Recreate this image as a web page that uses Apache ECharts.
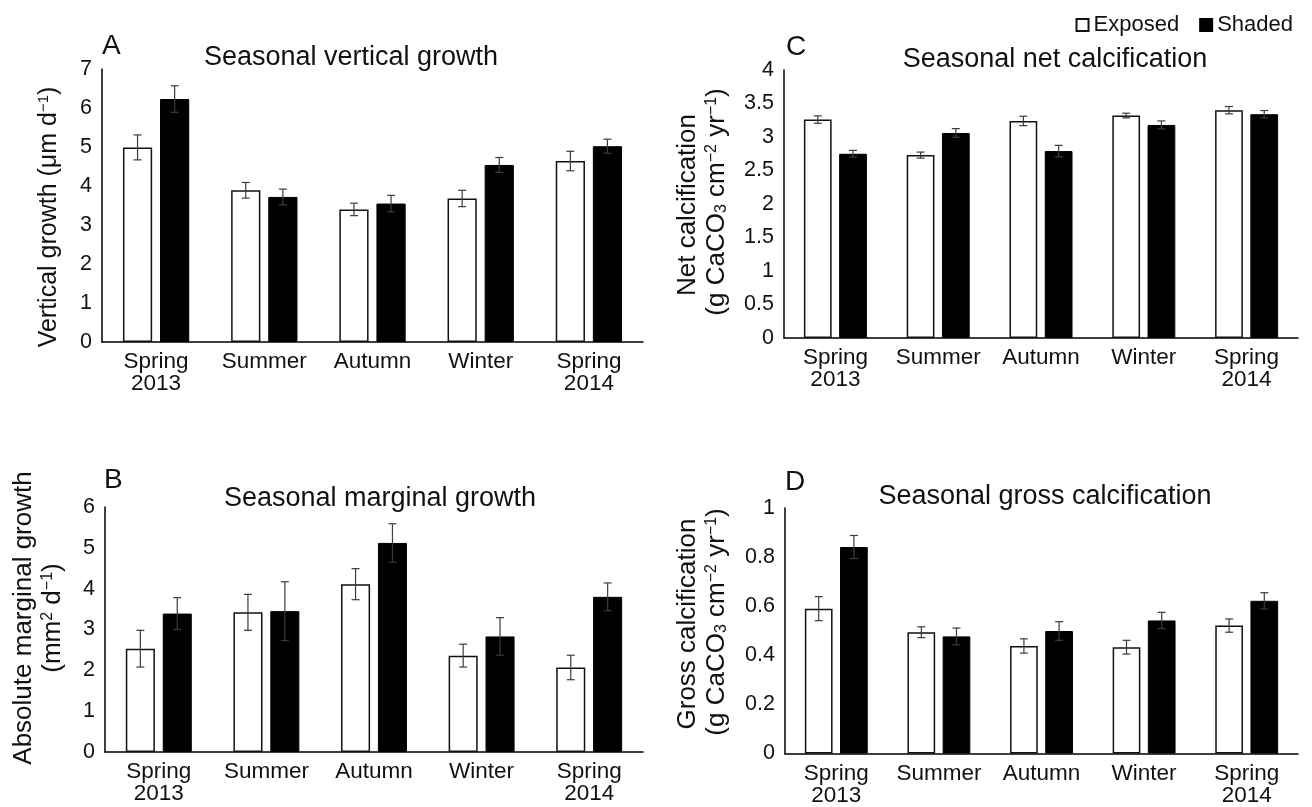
<!DOCTYPE html>
<html><head><meta charset="utf-8">
<script src="https://cdn.jsdelivr.net/npm/echarts@6/dist/echarts.min.js"></script>
<style>html,body{margin:0;padding:0;background:#fff}#c{width:1312px;height:807px}</style>
</head><body><div id="c"></div>
<script>
// ---------- data ----------
const categories = ['Spring\n2013', 'Summer', 'Autumn', 'Winter', 'Spring\n2014'];
const seriesNames = ['Exposed', 'Shaded'];

// A: Seasonal vertical growth (µm d-1)
const verticalExposed    = [4.99, 3.89, 3.40, 3.68, 4.64];
const verticalExposedErr = [0.32, 0.20, 0.16, 0.21, 0.25];
const verticalShaded     = [6.23, 3.72, 3.55, 4.54, 5.02];
const verticalShadedErr  = [0.34, 0.20, 0.21, 0.19, 0.18];
const verticalTicks = [0, 1, 2, 3, 4, 5, 6, 7];

// B: Seasonal marginal growth (mm2 d-1)
const marginalExposed    = [2.53, 3.42, 4.11, 2.36, 2.07];
const marginalExposedErr = [0.45, 0.44, 0.38, 0.28, 0.30];
const marginalShaded     = [3.39, 3.45, 5.12, 2.83, 3.80];
const marginalShadedErr  = [0.39, 0.72, 0.47, 0.46, 0.34];
const marginalTicks = [0, 1, 2, 3, 4, 5, 6];

// C: Seasonal net calcification (g CaCO3 cm-2 yr-1)
const netExposed    = [3.26, 2.73, 3.24, 3.32, 3.40];
const netExposedErr = [0.055, 0.045, 0.07, 0.035, 0.055];
const netShaded     = [2.75, 3.06, 2.79, 3.18, 3.34];
const netShadedErr  = [0.05, 0.065, 0.085, 0.06, 0.055];
const netTicks = [0, 0.5, 1, 1.5, 2, 2.5, 3, 3.5, 4];

// D: Seasonal gross calcification (g CaCO3 cm-2 yr-1)
const grossExposed    = [0.590, 0.494, 0.438, 0.433, 0.521];
const grossExposedErr = [0.049, 0.022, 0.029, 0.028, 0.027];
const grossShaded     = [0.841, 0.477, 0.499, 0.542, 0.622];
const grossShadedErr  = [0.047, 0.034, 0.038, 0.033, 0.033];
const grossTicks = [0, 0.2, 0.4, 0.6, 0.8, 1];

// ---------- styling ----------
const FONT = "'Liberation Sans', Arial, Helvetica, sans-serif";
const TXT = '#111';
const BAR_W = 0.27;      // fraction of category band
const BAR_GAP = 0.27;    // fraction of bar width
const OFFSET = (BAR_W * 2 + BAR_W * BAR_GAP) / 2 - BAR_W / 2;

const grids = [
  {left: 102, top: 69,  width: 541, height: 273},
  {left: 105, top: 507, width: 538, height: 245},
  {left: 784, top: 70,  width: 514, height: 268},
  {left: 785, top: 508, width: 513, height: 246}
];
const panels = [
  {ticks: verticalTicks, ex: verticalExposed, exErr: verticalExposedErr, sh: verticalShaded, shErr: verticalShadedErr},
  {ticks: marginalTicks, ex: marginalExposed, exErr: marginalExposedErr, sh: marginalShaded, shErr: marginalShadedErr},
  {ticks: netTicks, ex: netExposed, exErr: netExposedErr, sh: netShaded, shErr: netShadedErr},
  {ticks: grossTicks, ex: grossExposed, exErr: grossExposedErr, sh: grossShaded, shErr: grossShadedErr}
];

function errRender(sign) {
  return function (params, api) {
    const idx = api.value(0), v = api.value(1), e = api.value(2);
    const band = api.size([1, 0])[0];
    const top = api.coord([idx, v + e]);
    const bot = api.coord([idx, v - e]);
    const x = top[0] + sign * band * OFFSET;
    const cap = 4;
    const st = {stroke: '#3c3c3c', lineWidth: 1.2};
    return {type: 'group', children: [
      {type: 'line', shape: {x1: x, y1: top[1], x2: x, y2: bot[1]}, style: st},
      {type: 'line', shape: {x1: x - cap, y1: top[1], x2: x + cap, y2: top[1]}, style: st},
      {type: 'line', shape: {x1: x - cap, y1: bot[1], x2: x + cap, y2: bot[1]}, style: st}
    ]};
  };
}

const xAxes = [], yAxes = [], series = [];
panels.forEach((p, i) => {
  const t = p.ticks;
  xAxes.push({
    type: 'category', gridIndex: i, data: categories,
    axisLine: {lineStyle: {color: '#000', width: 1.5}},
    axisTick: {show: false},
    axisLabel: {interval: 0, fontSize: 22.5, lineHeight: 22, color: TXT, fontFamily: FONT, margin: 9}
  });
  yAxes.push({
    type: 'value', gridIndex: i, min: t[0], max: t[t.length - 1], interval: t[1] - t[0],
    axisLine: {show: true, lineStyle: {color: '#000', width: 1.5}},
    axisTick: {show: false}, splitLine: {show: false},
    axisLabel: {fontSize: 21.5, color: TXT, fontFamily: FONT, margin: 10}
  });
  series.push({
    name: seriesNames[0], type: 'bar', xAxisIndex: i, yAxisIndex: i, data: p.ex,
    barWidth: (BAR_W * 100) + '%', barGap: (BAR_GAP * 100) + '%',
    itemStyle: {color: '#fff', borderColor: '#111', borderWidth: 1.5}
  });
  series.push({
    name: seriesNames[1], type: 'bar', xAxisIndex: i, yAxisIndex: i, data: p.sh,
    barWidth: (BAR_W * 100) + '%', barGap: (BAR_GAP * 100) + '%',
    itemStyle: {color: '#000', borderColor: '#000', borderWidth: 1}
  });
  series.push({
    name: 'errE' + i, type: 'custom', xAxisIndex: i, yAxisIndex: i, z: 5,
    renderItem: errRender(-1),
    data: categories.map((c, k) => [k, p.ex[k], p.exErr[k]])
  });
  series.push({
    name: 'errS' + i, type: 'custom', xAxisIndex: i, yAxisIndex: i, z: 5,
    renderItem: errRender(1),
    data: categories.map((c, k) => [k, p.sh[k], p.shErr[k]])
  });
});

function txt(text, x, y, size, opts) {
  opts = opts || {};
  return {
    type: 'text', x: x, y: y, rotation: opts.rot || 0, z: 10,
    style: {
      text: text, fontSize: size, fontFamily: FONT, fill: TXT,
      align: opts.align || 'center', verticalAlign: 'middle',
      rich: {
        sup: {fontSize: Math.round(size * 0.6), fontFamily: FONT, fill: TXT, verticalAlign: 'top'},
        sub: {fontSize: Math.round(size * 0.6), fontFamily: FONT, fill: TXT, verticalAlign: 'bottom'}
      }
    }
  };
}
const R = Math.PI / 2;
const unitCa = '(g CaCO{sub|3} cm{sup|\u22122} yr{sup|\u22121})';
const graphic = [
  txt('A', 102, 46, 28, {align: 'left'}),
  txt('B', 104, 480, 28, {align: 'left'}),
  txt('C', 786, 47, 28, {align: 'left'}),
  txt('D', 785, 482, 28, {align: 'left'}),
  txt('Seasonal vertical growth', 351, 58, 27),
  txt('Seasonal marginal growth', 380, 499, 27),
  txt('Seasonal net calcification', 1055, 60, 27),
  txt('Seasonal gross calcification', 1045, 497, 27),
  txt('Vertical growth (\u03bcm d{sup|\u22121})', 49, 217, 25, {rot: R}),
  txt('Absolute marginal growth', 24, 618, 26, {rot: R}),
  txt('(mm{sup|2} d{sup|\u22121})', 53, 618, 26, {rot: R}),
  txt('Net calcification', 688, 205, 26, {rot: R}),
  txt(unitCa, 717, 202, 26, {rot: R}),
  txt('Gross calcification', 688, 624, 26, {rot: R}),
  txt(unitCa, 717, 622, 26, {rot: R})
];

const chart = echarts.init(document.getElementById('c'), null, {renderer: 'canvas'});
chart.setOption({
  animation: false,
  backgroundColor: '#fff',
  legend: {
    data: seriesNames, right: 14, top: 9, icon: 'rect',
    itemWidth: 12, itemHeight: 12, itemGap: 20,
    textStyle: {fontSize: 22, fontFamily: FONT, color: TXT}
  },
  grid: grids,
  xAxis: xAxes,
  yAxis: yAxes,
  series: series,
  graphic: graphic
});
</script>
</body></html>
